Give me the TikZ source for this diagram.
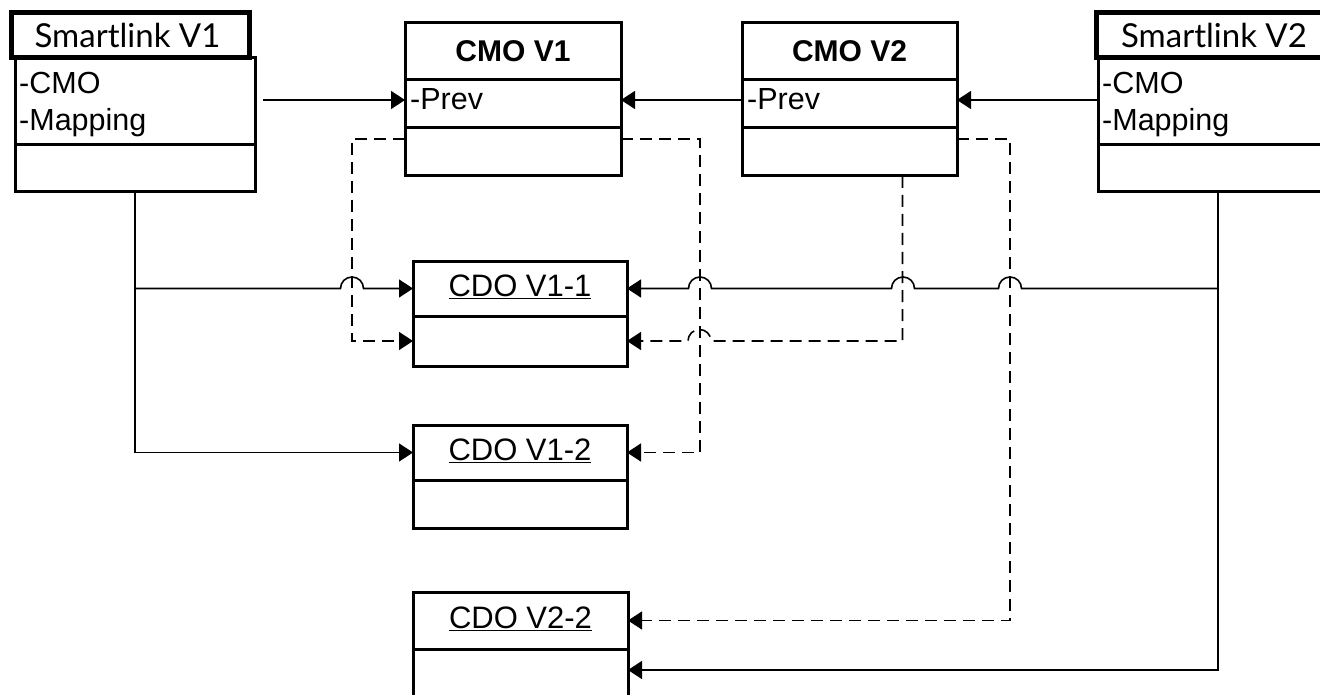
\documentclass[tikz,border=0pt]{standalone}
\usepackage{fontspec}
\setmainfont{Liberation Sans}
\newfontfamily\headfont{Lato}
\usetikzlibrary{arrows.meta}

\begin{document}
\begin{tikzpicture}[x=1pt,y=-1pt,
  comp/.style={draw, line width=3pt, anchor=north west, inner sep=0pt, outer sep=0pt},
  headcomp/.style={draw, line width=5pt, anchor=north west, inner sep=0pt, outer sep=0pt, fill=white},
  attr/.style={inner sep=0pt, font=\fontsize{30.5}{37}\selectfont, align=left},
  boldtitle/.style={inner sep=0pt, font=\bfseries\fontsize{30}{34}\selectfont},
  objtitle/.style={inner sep=0pt, anchor=base, font=\fontsize{31}{36}\selectfont},
  slinktitle/.style={inner sep=0pt, font=\headfont\fontsize{33}{38}\selectfont},
  conn/.style={line width=1.6pt, -{Triangle[length=14pt,width=18pt]}},
  dep/.style={conn, dash pattern=on 12pt off 7pt}
]
\fill[white] (0,0) rectangle (1320,695);
\clip (0,0) rectangle (1320,695);

% ---------- Smartlink V1 ----------
\node[comp, minimum width=240pt, minimum height=87.5pt] (sl1a) at (15,57.5) {};
\node[comp, minimum width=240pt, minimum height=47pt] (sl1b) at (15,145) {};
\node[headcomp, minimum width=238pt, minimum height=45pt] (sl1t) at (11.5,12.5) {};
\node[slinktitle] (sl1name) at ([xshift=-3pt]sl1t.center) {Smartlink V1};
\node[attr, anchor=west] (sl1attr) at ([xshift=4pt,yshift=-3.5pt]sl1a.west) {-CMO\\-Mapping};

% ---------- Smartlink V2 ----------
\node[comp, minimum width=240pt, minimum height=87.5pt] (sl2a) at (1098,57.5) {};
\node[comp, minimum width=240pt, minimum height=47pt] (sl2b) at (1098,145) {};
\node[headcomp, minimum width=240pt, minimum height=45pt] (sl2t) at (1096,12.5) {};
\node[slinktitle] (sl2name) at ([xshift=-2pt]sl2t.center) {Smartlink V2};
\node[attr, anchor=west] (sl2attr) at ([xshift=4pt,yshift=-3.5pt]sl2a.west) {-CMO\\-Mapping};

% ---------- CMO V1 ----------
\node[comp, minimum width=216pt, minimum height=57pt] (cmo1t) at (405,23) {};
\node[comp, minimum width=216pt, minimum height=48pt] (cmo1a) at (405,80) {};
\node[comp, minimum width=216pt, minimum height=48pt] (cmo1b) at (405,128) {};
\node[boldtitle] (cmo1name) at (cmo1t.center) {CMO V1};
\node[attr, anchor=base west] (cmo1attr) at ([xshift=5pt,yshift=-6pt]cmo1a.west) {-Prev};

% ---------- CMO V2 ----------
\node[comp, minimum width=215pt, minimum height=57pt] (cmo2t) at (742,23) {};
\node[comp, minimum width=215pt, minimum height=48pt] (cmo2a) at (742,80) {};
\node[comp, minimum width=215pt, minimum height=48pt] (cmo2b) at (742,128) {};
\node[boldtitle] (cmo2name) at (cmo2t.center) {CMO V2};
\node[attr, anchor=base west] (cmo2attr) at ([xshift=5pt,yshift=-6pt]cmo2a.west) {-Prev};

% ---------- CDO objects ----------
\node[comp, minimum width=214pt, minimum height=55pt] (cdo11t) at (413,261) {};
\node[comp, minimum width=214pt, minimum height=50pt] (cdo11b) at (413,316) {};
\node[objtitle] (cdo11name) at ([yshift=-8pt]cdo11t.center) {\underline{CDO V1-1}};

\node[comp, minimum width=214pt, minimum height=55pt] (cdo12t) at (413,425) {};
\node[comp, minimum width=214pt, minimum height=48pt] (cdo12b) at (413,480) {};
\node[objtitle] (cdo12name) at ([yshift=-8pt]cdo12t.center) {\underline{CDO V1-2}};

\node[comp, minimum width=215pt, minimum height=57pt] (cdo22t) at (413,592) {};
\node[comp, minimum width=215pt, minimum height=50pt] (cdo22b) at (413,649) {};
\node[objtitle] (cdo22name) at ([yshift=-8pt]cdo22t.center) {\underline{CDO V2-2}};

% ---------- CMO chain ----------
\coordinate (sl1out) at (263,100);
\draw[conn] (sl1out) -- ([yshift=4pt]cmo1a.west);
\draw[conn] ([yshift=4pt]cmo2a.west) -- ([yshift=4pt]cmo1a.east);
\draw[conn] ([yshift=1.25pt]sl2a.west) -- ([yshift=4pt]cmo2a.east);

% ---------- Smartlink V1 to its CDOs ----------
\draw[conn] (sl1b.south) |- (cdo12t.west);
\draw[conn] (sl1b.south |- cdo11t.west) -- ++(205.5,0)
  arc[start angle=180, end angle=360, radius=11.5] -- (cdo11t.west);

% ---------- Smartlink V2 to its CDOs ----------
\draw[conn] (sl2b.south) |- ([yshift=4pt]cdo22b.east);
\draw[conn] (sl2b.south |- cdo11t.east) -- ++(-196.5,0)
  arc[start angle=0, end angle=-180, radius=11.5] -- ++(-84,0)
  arc[start angle=0, end angle=-180, radius=11.5] -- ++(-180,0)
  arc[start angle=0, end angle=-180, radius=11.5] -- (cdo11t.east);

% ---------- CMO to CDO dependencies ----------
\draw[dep] ([yshift=13pt]cmo1b.west) -- ++(-53,0) |- (cdo11b.west);
\draw[dep] ([yshift=13pt]cmo1b.east) -- ++(79,0) |- (cdo12t.east);
\draw[dep] ([xshift=53pt]cmo2b.south) -- ++(0,165) -- ++(-191.5,0)
  arc[start angle=0, end angle=-180, radius=11.5] -- (cdo11b.east);
\draw[dep] ([yshift=13pt]cmo2b.east) -- ++(53,0) |- (cdo22t.east);
\end{tikzpicture}
\end{document}
